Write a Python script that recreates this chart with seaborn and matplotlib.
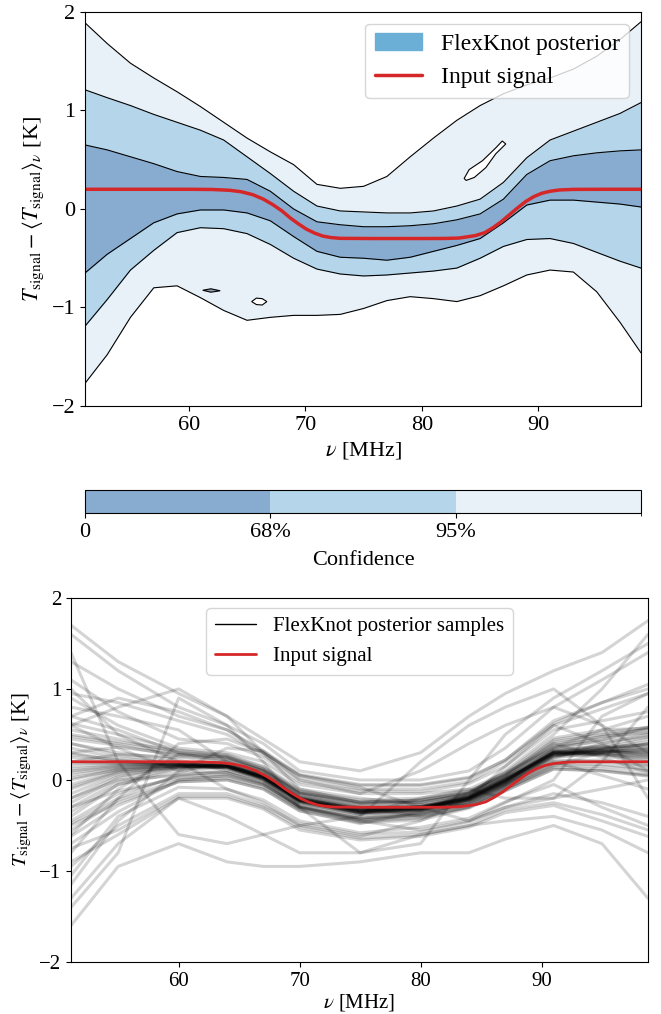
import numpy as np
import pandas as pd
import matplotlib
matplotlib.use("Agg")
import matplotlib.pyplot as plt
import seaborn as sns
from matplotlib.colors import ListedColormap, BoundaryNorm
from matplotlib.cm import ScalarMappable
from matplotlib.patches import Patch
from matplotlib.lines import Line2D

# ---------------- data ----------------
# contour boundaries of the posterior (top panel)
freq = [51.1, 53, 55, 57, 59, 61, 63, 65, 67, 69, 71, 73, 75, 77, 79, 81, 83, 85, 87, 89, 91, 93, 95, 97, 98.8]
outer_hi = [1.89, 1.68, 1.48, 1.33, 1.19, 1.04, 0.88, 0.72, 0.58, 0.45, 0.25, 0.21, 0.23, 0.33, 0.53, 0.72, 0.90, 1.05, 1.17, 1.26, 1.33, 1.42, 1.55, 1.72, 1.90]
mid_hi = [1.21, 1.13, 1.05, 0.96, 0.88, 0.80, 0.70, 0.53, 0.36, 0.18, 0.03, -0.02, -0.03, -0.04, -0.04, -0.02, 0.03, 0.10, 0.27, 0.52, 0.70, 0.79, 0.88, 0.97, 1.08]
inner_hi = [0.65, 0.60, 0.53, 0.46, 0.38, 0.33, 0.32, 0.30, 0.18, 0.00, -0.13, -0.16, -0.18, -0.18, -0.17, -0.15, -0.11, -0.05, 0.10, 0.35, 0.49, 0.54, 0.57, 0.59, 0.60]
inner_lo = [-0.65, -0.46, -0.30, -0.14, -0.05, -0.01, -0.01, -0.04, -0.12, -0.28, -0.43, -0.49, -0.50, -0.52, -0.49, -0.43, -0.37, -0.30, -0.14, 0.04, 0.09, 0.09, 0.07, 0.05, 0.02]
mid_lo = [-1.19, -0.92, -0.62, -0.42, -0.24, -0.19, -0.20, -0.25, -0.36, -0.50, -0.61, -0.66, -0.68, -0.67, -0.65, -0.63, -0.60, -0.50, -0.38, -0.31, -0.30, -0.35, -0.44, -0.53, -0.60]
outer_lo = [-1.77, -1.48, -1.10, -0.80, -0.78, -0.90, -1.03, -1.13, -1.10, -1.08, -1.08, -1.07, -1.01, -0.93, -0.89, -0.91, -0.94, -0.88, -0.78, -0.67, -0.62, -0.64, -0.84, -1.15, -1.46]

# small closed contours
island_x = [83.63, 84.06, 85.2, 86.34, 86.9, 87.2, 86.34, 85.49, 84.5, 83.8]
island_y = [0.31, 0.40, 0.49, 0.62, 0.69, 0.66, 0.56, 0.42, 0.32, 0.29]
blob_x = [65.4, 65.8, 66.3, 66.7, 66.3, 65.8]
blob_y = [-0.94, -0.905, -0.91, -0.94, -0.975, -0.97]
speck_x = [61.2, 61.9, 62.7, 61.9]
speck_y = [-0.825, -0.81, -0.83, -0.845]

# input signal
sig_freq = [51.1, 55, 60, 62, 63.5, 64.5, 65.5, 66.4, 67.2, 68, 68.7, 69.4, 70.1, 70.8, 71.5, 72.2, 73, 76, 80, 82, 83.2,
            84.6, 85.4, 86.1, 86.8, 87.5, 88.2, 88.9, 89.6, 90.3, 91, 91.8, 93, 96, 98.8]
sig_val = [0.2, 0.2, 0.2, 0.198, 0.19, 0.175, 0.145, 0.1, 0.045, -0.02, -0.09, -0.15, -0.205, -0.245, -0.275, -0.29, -0.298, -0.3, -0.3, -0.299, -0.295,
           -0.27, -0.24, -0.19, -0.13, -0.06, 0.01, 0.075, 0.125, 0.16, 0.18, 0.193, 0.199, 0.2, 0.2]

# posterior sample curves (bottom panel), values at the knots
knots = [51.1, 55, 60, 64, 67, 70, 75, 80, 84, 87, 91, 95, 98.8]
samples = [
    [0.10, 0.15, 0.18, 0.17, 0.05, -0.20, -0.32, -0.30, -0.19, 0.00, 0.28, 0.30, 0.28],
    [-0.10, 0.08, 0.15, 0.14, 0.02, -0.24, -0.36, -0.33, -0.22, -0.04, 0.26, 0.34, 0.36],
    [0.25, 0.20, 0.17, 0.16, 0.04, -0.21, -0.33, -0.30, -0.18, 0.01, 0.31, 0.29, 0.22],
    [-0.25, 0.02, 0.14, 0.15, 0.03, -0.23, -0.35, -0.32, -0.21, -0.03, 0.28, 0.33, 0.40],
    [0.05, 0.13, 0.16, 0.13, 0.00, -0.25, -0.37, -0.34, -0.23, -0.05, 0.27, 0.31, 0.30],
    [0.35, 0.24, 0.18, 0.17, 0.06, -0.19, -0.31, -0.29, -0.18, 0.02, 0.32, 0.36, 0.34],
    [-0.40, -0.05, 0.12, 0.14, 0.02, -0.22, -0.34, -0.31, -0.20, -0.01, 0.30, 0.28, 0.20],
    [0.15, 0.17, 0.17, 0.15, 0.03, -0.22, -0.35, -0.33, -0.21, -0.02, 0.29, 0.35, 0.45],
    [-0.05, 0.10, 0.16, 0.16, 0.05, -0.20, -0.33, -0.31, -0.19, 0.00, 0.30, 0.30, 0.26],
    [0.20, 0.18, 0.15, 0.14, 0.01, -0.24, -0.36, -0.32, -0.22, -0.03, 0.27, 0.32, 0.33],
    [0.00, 0.12, 0.17, 0.15, 0.04, -0.21, -0.34, -0.30, -0.20, -0.01, 0.31, 0.33, 0.31],
    [-0.15, 0.06, 0.14, 0.16, 0.04, -0.22, -0.33, -0.31, -0.20, 0.00, 0.29, 0.30, 0.35],
    [0.30, 0.21, 0.16, 0.14, 0.02, -0.23, -0.35, -0.31, -0.20, -0.02, 0.28, 0.33, 0.27],
    [0.08, 0.14, 0.15, 0.15, 0.03, -0.22, -0.34, -0.32, -0.21, -0.02, 0.30, 0.31, 0.32],
    [0.12, 0.16, 0.19, 0.18, 0.06, -0.19, -0.31, -0.29, -0.17, 0.02, 0.33, 0.37, 0.38],
    [-0.30, -0.02, 0.13, 0.13, 0.01, -0.25, -0.38, -0.35, -0.24, -0.06, 0.25, 0.29, 0.25],
    [0.40, 0.27, 0.19, 0.16, 0.04, -0.21, -0.32, -0.29, -0.18, 0.01, 0.30, 0.34, 0.42],
    [-0.08, 0.09, 0.14, 0.14, 0.02, -0.23, -0.36, -0.34, -0.22, -0.04, 0.26, 0.28, 0.24],
    [0.18, 0.19, 0.18, 0.16, 0.04, -0.20, -0.33, -0.32, -0.20, -0.01, 0.32, 0.38, 0.47],
    [-0.20, 0.04, 0.15, 0.15, 0.03, -0.22, -0.35, -0.31, -0.19, 0.01, 0.29, 0.27, 0.18],
    [0.28, 0.22, 0.17, 0.15, 0.03, -0.23, -0.36, -0.33, -0.21, -0.02, 0.31, 0.35, 0.39],
    [0.02, 0.11, 0.16, 0.16, 0.05, -0.21, -0.33, -0.30, -0.19, 0.00, 0.30, 0.32, 0.29],
    [0.55, 0.45, 0.30, 0.27, 0.14, -0.12, -0.22, -0.20, -0.12, 0.06, 0.42, 0.50, 0.55],
    [-0.55, -0.22, 0.00, 0.02, -0.08, -0.32, -0.46, -0.42, -0.30, -0.10, 0.14, 0.12, 0.06],
    [0.45, 0.38, 0.26, 0.23, 0.10, -0.15, -0.27, -0.25, -0.15, 0.04, 0.38, 0.45, 0.52],
    [-0.45, -0.15, 0.04, 0.06, -0.05, -0.29, -0.43, -0.39, -0.27, -0.08, 0.18, 0.17, 0.12],
    [0.60, 0.35, 0.10, 0.08, -0.03, -0.30, -0.44, -0.38, -0.24, -0.05, 0.20, 0.22, 0.15],
    [-0.60, -0.10, 0.28, 0.25, 0.12, -0.14, -0.24, -0.22, -0.13, 0.06, 0.44, 0.52, 0.58],
    [0.40, 0.30, 0.22, 0.10, -0.02, -0.28, -0.40, -0.36, -0.26, -0.06, 0.24, 0.40, 0.50],
    [-0.35, -0.05, 0.08, 0.22, 0.10, -0.15, -0.26, -0.24, -0.16, 0.05, 0.40, 0.25, 0.08],
    [0.50, 0.42, 0.32, 0.28, 0.15, -0.10, -0.20, -0.27, -0.28, -0.10, 0.16, 0.30, 0.40],
    [-0.50, -0.25, -0.02, 0.00, -0.10, -0.34, -0.48, -0.35, -0.14, 0.08, 0.46, 0.55, 0.57],
    [0.20, 0.28, 0.25, 0.20, 0.07, -0.18, -0.30, -0.40, -0.30, -0.12, 0.12, 0.10, 0.04],
    [-0.20, 0.00, 0.05, 0.10, 0.00, -0.26, -0.38, -0.20, -0.10, 0.08, 0.35, 0.48, 0.56],
    [0.62, 0.50, 0.33, 0.26, 0.12, -0.13, -0.24, -0.22, -0.14, 0.05, 0.40, 0.48, 0.52],
    [-0.62, -0.28, -0.02, 0.00, -0.10, -0.34, -0.47, -0.44, -0.31, -0.12, 0.12, 0.10, 0.05],
    [0.30, 0.36, 0.28, 0.24, 0.11, -0.14, -0.25, -0.23, -0.14, 0.04, 0.36, 0.42, 0.48],
    [-0.30, -0.12, 0.02, 0.04, -0.06, -0.31, -0.44, -0.41, -0.29, -0.09, 0.16, 0.15, 0.10],
    [0.48, 0.40, 0.29, 0.25, 0.10, -0.16, -0.28, -0.30, -0.22, -0.02, 0.34, 0.44, 0.58],
    [-0.48, -0.20, 0.06, 0.08, -0.04, -0.29, -0.42, -0.37, -0.25, -0.06, 0.22, 0.20, 0.16],
    [0.70, 0.55, 0.30, 0.20, 0.08, -0.18, -0.30, -0.27, -0.17, 0.02, 0.36, 0.55, 0.70],
    [-0.70, -0.35, 0.00, 0.05, -0.05, -0.30, -0.42, -0.38, -0.26, -0.07, 0.20, 0.05, -0.10],
    [0.95, 0.85, 0.65, 0.50, 0.28, 0.02, -0.10, -0.10, -0.02, 0.20, 0.60, 0.78, 0.95],
    [-0.95, -0.50, -0.15, -0.15, -0.28, -0.48, -0.60, -0.57, -0.46, -0.30, -0.15, -0.25, -0.40],
    [1.10, 0.75, 0.45, 0.40, 0.25, -0.02, -0.12, -0.13, -0.04, 0.15, 0.55, 0.65, 0.75],
    [-1.05, -0.40, -0.08, -0.10, -0.22, -0.45, -0.58, -0.52, -0.42, -0.24, -0.05, -0.30, -0.50],
    [0.80, 0.70, 0.55, 0.20, 0.00, -0.30, -0.45, -0.55, -0.45, -0.25, 0.00, 0.70, 0.95],
    [-0.80, -0.20, 0.40, 0.45, 0.30, 0.05, -0.08, -0.30, -0.45, -0.30, -0.20, -0.10, 0.00],
    [0.70, 0.90, 0.75, 0.55, 0.32, 0.06, -0.05, -0.05, 0.03, 0.22, 0.65, 0.85, 1.00],
    [-0.75, -0.55, -0.18, -0.18, -0.30, -0.52, -0.64, -0.60, -0.50, -0.33, -0.25, -0.38, -0.55],
    [1.00, 0.50, 0.20, -0.10, -0.25, -0.50, -0.62, -0.45, -0.20, 0.15, 0.60, 0.40, 0.10],
    [-1.15, -0.45, 0.10, 0.35, 0.32, 0.00, -0.15, -0.15, -0.10, -0.20, -0.20, 0.20, 0.80],
    [1.30, 1.00, 0.70, 0.55, 0.30, 0.05, -0.06, -0.06, 0.02, 0.22, 0.62, 0.85, 1.05],
    [-1.30, -0.70, -0.20, -0.20, -0.32, -0.55, -0.66, -0.62, -0.52, -0.36, -0.28, -0.45, -0.62],
    [0.90, 0.60, 0.35, 0.30, 0.20, -0.05, -0.15, 0.10, 0.40, 0.60, 0.80, 0.60, 0.30],
    [-0.90, -0.60, -0.20, -0.40, -0.60, -0.80, -0.80, -0.60, -0.50, -0.45, -0.40, -0.55, -0.80],
    [1.60, 1.20, 0.80, 0.60, 0.40, 0.10, 0.00, 0.00, 0.10, 0.35, 0.80, 1.10, 1.40],
    [0.60, 0.80, 1.00, 0.70, 0.30, -0.10, -0.25, -0.25, -0.15, 0.10, 0.50, 1.00, 1.60],
    [1.70, 1.30, 0.95, 0.70, 0.45, 0.20, 0.10, 0.30, 0.70, 0.95, 1.20, 1.40, 1.75],
    [-1.60, -0.95, -0.70, -0.90, -0.95, -0.95, -0.90, -0.80, -0.80, -0.65, -0.50, -0.70, -1.30],
    [1.40, 0.20, -0.60, -0.70, -0.60, -0.50, -0.40, 0.20, 0.60, 0.80, 1.00, 0.60, -0.20],
    [-1.40, -0.80, 0.90, 0.60, 0.20, -0.30, -0.80, -0.70, 0.00, 0.50, 0.90, 1.20, 1.50],
]

conf_ticks = [0, 1, 2]
conf_labels = ["0", "68%", "95%"]

# ---------------- style ----------------
sns.set_style("ticks", {"axes.edgecolor": "black", "xtick.color": "black", "ytick.color": "black",
                        "text.color": "black", "axes.labelcolor": "black"})
plt.rcParams["font.family"] = ["Liberation Serif", "DejaVu Serif"]
plt.rcParams["mathtext.fontset"] = "stix"
plt.rcParams["font.size"] = 16

c_dark, c_mid, c_light = "#88acd0", "#b4d5ea", "#e8f1f8"
red = "#d62728"
ylab = r"$T_{\rm signal} - \langle T_{\rm signal}\rangle_\nu$ [K]"
xlab = r"$\nu$ [MHz]"

fig = plt.figure(figsize=(6.61, 10.14), dpi=100)
ax1 = fig.add_axes([0.1286, 0.5996, 0.8411, 0.3886])
cax = fig.add_axes([0.1286, 0.4941, 0.8411, 0.0227])
ax2 = fig.add_axes([0.1074, 0.0513, 0.8729, 0.3590])

# ---- top: contour bands ----
ax1.fill_between(freq, outer_lo, outer_hi, color=c_light, lw=0)
ax1.fill_between(freq, mid_lo, mid_hi, color=c_mid, lw=0)
ax1.fill_between(freq, inner_lo, inner_hi, color=c_dark, lw=0)
for b in [outer_hi, mid_hi, inner_hi, inner_lo, mid_lo, outer_lo]:
    ax1.plot(freq, b, color="black", lw=0.8)
ax1.fill(island_x, island_y, facecolor="white", edgecolor="black", lw=0.8)
ax1.fill(blob_x, blob_y, facecolor="white", edgecolor="black", lw=0.8)
ax1.fill(speck_x, speck_y, facecolor="#8a9bb0", edgecolor="black", lw=0.8)
sns.lineplot(x=sig_freq, y=sig_val, color=red, lw=2.5, ax=ax1, sort=False)
ax1.set_xlim(51.1, 98.8)
ax1.set_ylim(-2, 2)
ax1.set_yticks([-2, -1, 0, 1, 2])
ax1.set_xticks([60, 70, 80, 90])
ax1.set_xlabel(xlab)
ax1.set_ylabel(ylab)
ax1.legend(handles=[Patch(color="#6baed6", label="FlexKnot posterior"),
                    Line2D([], [], color=red, lw=2.5, label="Input signal")],
           loc="upper right", fontsize=17)

# ---- colorbar ----
cmap = ListedColormap([c_dark, c_mid, c_light])
norm = BoundaryNorm([0, 1, 2, 3], 3)
cb = fig.colorbar(ScalarMappable(norm=norm, cmap=cmap), cax=cax, orientation="horizontal", ticks=conf_ticks)
cb.set_ticklabels(conf_labels)
cb.set_label("Confidence", labelpad=7)

# ---- bottom: sample curves ----
df = pd.DataFrame(samples, columns=knots)
df["sample"] = range(len(df))
long = df.melt(id_vars="sample", var_name="freq", value_name="T")
long["freq"] = long["freq"].astype(float)
sns.lineplot(data=long, x="freq", y="T", units="sample", estimator=None, color="black",
             lw=2.2, alpha=0.17, ax=ax2, legend=False)
sns.lineplot(x=sig_freq, y=sig_val, color=red, lw=2.0, ax=ax2, sort=False)
ax2.set_xlim(51.1, 98.8)
ax2.set_ylim(-2, 2)
ax2.set_yticks([-2, -1, 0, 1, 2])
ax2.set_xticks([60, 70, 80, 90])
ax2.set_xlabel(xlab, fontsize=15, labelpad=1)
ax2.set_ylabel(ylab, fontsize=15)
ax2.tick_params(labelsize=15)
ax2.legend(handles=[Line2D([], [], color="black", lw=1.0, label="FlexKnot posterior samples"),
                    Line2D([], [], color=red, lw=2.0, label="Input signal")],
           loc="upper center", fontsize=15)

fig.savefig("out.png", dpi=100)
